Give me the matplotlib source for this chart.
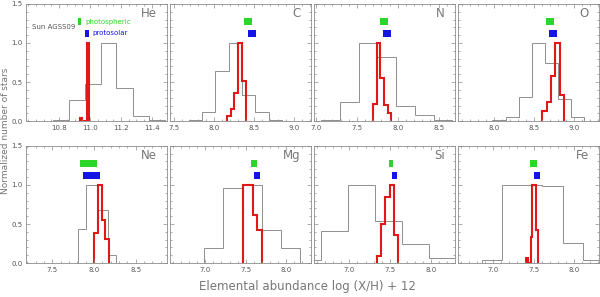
import numpy as np
import matplotlib
matplotlib.use('Agg')
import matplotlib.pyplot as plt
from matplotlib.ticker import MultipleLocator, FixedLocator


##################################################
#################### DATA ########################
##################################################
elements = ['He', 'C', 'N', 'O', 'Ne', 'Mg', 'Si', 'Fe']

# Sun AGSS09: value, error (photospheric / protosolar)
photo_val = [10.93, 8.43, 7.83, 8.69, 7.93, 7.60, 7.51, 7.50]
photo_err = [0.01, 0.05, 0.05, 0.05, 0.10, 0.04, 0.03, 0.04]
proto_val = [10.98, 8.47, 7.87, 8.73, 7.97, 7.64, 7.55, 7.54]
proto_err = [0.0125, 0.05, 0.05, 0.05, 0.10, 0.04, 0.03, 0.04]

# grey histograms (bin edges, normalized counts)
grey_edges = {
    'He': [10.655, 10.76, 10.863, 10.965, 11.07, 11.17, 11.275, 11.38, 11.485],
    'C': [7.683, 7.85, 8.016, 8.183, 8.35, 8.516, 8.683, 8.85],
    'N': [7.065, 7.294, 7.523, 7.752, 7.981, 8.21, 8.439, 8.668],
    'O': [7.976, 8.14, 8.304, 8.468, 8.632, 8.796, 8.96, 9.124],
    'Ne': [7.805, 7.905, 8.035, 8.165, 8.265],
    'Mg': [6.988, 7.225, 7.462, 7.699, 7.936, 8.173],
    'Si': [6.33, 6.66, 6.99, 7.32, 7.65, 7.98, 8.31],
    'Fe': [6.865, 7.113, 7.36, 7.61, 7.86, 8.11, 8.36],
}
grey_counts = {
    'He': [0.005, 0.02, 0.27, 0.48, 1.0, 0.43, 0.07, 0.02],
    'C': [0.02, 0.12, 0.64, 1.0, 0.33, 0.12, 0.01],
    'N': [0.02, 0.24, 1.0, 0.82, 0.19, 0.08, 0.02],
    'O': [0.02, 0.055, 0.31, 1.0, 0.74, 0.28, 0.055],
    'Ne': [0.44, 1.0, 0.68, 0.11],
    'Mg': [0.19, 0.965, 1.0, 0.42, 0.19],
    'Si': [0.04, 0.405, 1.0, 0.54, 0.25, 0.07],
    'Fe': [0.04, 1.0, 1.0, 0.98, 0.26, 0.04],
}

# red histograms
red_edges = {
    'He': [10.933, 10.948, 10.964, 10.979, 10.994],
    'C': [8.16, 8.207, 8.255, 8.302, 8.35, 8.397],
    'N': [7.698, 7.742, 7.787, 7.831, 7.876, 7.92],
    'O': [8.602, 8.656, 8.71, 8.764, 8.818, 8.872],
    'Ne': [7.998, 8.044, 8.09, 8.136, 8.182],
    'Mg': [7.47, 7.528, 7.585, 7.64, 7.698],
    'Si': [7.34, 7.391, 7.442, 7.493, 7.544, 7.595],
    'Fe': [7.405, 7.435, 7.465, 7.485, 7.535, 7.56],
}
red_counts = {
    'He': [0.04, 0.0, 0.0, 1.0],
    'C': [0.07, 0.15, 0.36, 1.0, 0.51],
    'N': [0.22, 1.0, 0.55, 0.21, 0.11],
    'O': [0.13, 0.25, 0.58, 1.0, 0.33],
    'Ne': [0.39, 1.0, 0.55, 0.31],
    'Mg': [1.0, 1.0, 0.61, 0.42],
    'Si': [0.09, 0.50, 0.85, 1.0, 0.36],
    'Fe': [0.07, 0.0, 0.33, 1.0, 0.42],
}

x_limits = {
    'He': (10.585, 11.496), 'C': (7.447, 9.21), 'N': (6.973, 8.698),
    'O': (7.543, 9.306), 'Ne': (7.18, 8.874), 'Mg': (6.562, 8.303),
    'Si': (6.566, 8.29), 'Fe': (6.565, 8.306),
}
x_ticks = {
    'He': [10.8, 11.0, 11.2, 11.4], 'C': [7.5, 8.0, 8.5, 9.0],
    'N': [7.0, 7.5, 8.0, 8.5], 'O': [8.0, 8.5, 9.0],
    'Ne': [7.5, 8.0, 8.5], 'Mg': [7.0, 7.5, 8.0],
    'Si': [7.0, 7.5, 8.0], 'Fe': [7.0, 7.5, 8.0],
}


##################################################
#################### PLOT ########################
##################################################
ax_col = '#8c8c8c'
txt_col = '#555555'
green = '#2bd62b'
blue = '#1414e6'
red = '#e01818'

fig, axes = plt.subplots(2, 4, figsize=(6.0, 2.97), dpi=100)
fig.subplots_adjust(left=0.043, right=0.998, top=0.987, bottom=0.114,
                    wspace=0.021, hspace=0.21)

for i, el in enumerate(elements):
    ax = axes.flat[i]
    ax.stairs(grey_counts[el], grey_edges[el], color='#8f8f8f', lw=0.7,
              baseline=0)
    ax.stairs(red_counts[el], red_edges[el], color=red, lw=1.5, baseline=0)

    # solar values
    ax.fill_between([photo_val[i] - photo_err[i], photo_val[i] + photo_err[i]],
                    1.225, 1.315, color=green, lw=0)
    ax.fill_between([proto_val[i] - proto_err[i], proto_val[i] + proto_err[i]],
                    1.08, 1.17, color=blue, lw=0)

    ax.set_xlim(*x_limits[el])
    ax.set_ylim(0, 1.5)
    ax.xaxis.set_major_locator(FixedLocator(x_ticks[el]))
    ax.xaxis.set_minor_locator(MultipleLocator(0.05 if el == 'He' else 0.1))
    ax.yaxis.set_major_locator(MultipleLocator(0.5))
    ax.yaxis.set_minor_locator(MultipleLocator(0.1))
    ax.tick_params(which='both', direction='in', top=True, right=True,
                   color=ax_col, width=0.5, labelsize=5, labelcolor=txt_col,
                   pad=2.5)
    ax.tick_params(which='major', length=3)
    ax.tick_params(which='minor', length=1.5)
    ax.xaxis.set_major_formatter(plt.FormatStrFormatter('%.1f'))
    ax.yaxis.set_major_formatter(plt.FormatStrFormatter('%.1f'))
    if i % 4 != 0:
        ax.set_yticklabels([])
    for s in ax.spines.values():
        s.set_color(ax_col)
        s.set_linewidth(0.6)

    ax.text(0.93, 0.92, el, transform=ax.transAxes, ha='right', va='center',
            fontsize=8.5, color='#777777')

ax0 = axes.flat[0]
ax0.text(10.625, 1.2, 'Sun AGSS09', fontsize=5, color=txt_col, va='center')
ax0.text(10.97, 1.27, 'photospheric', fontsize=5, color=green, va='center')
ax0.text(11.015, 1.125, 'protosolar', fontsize=5, color=blue, va='center')

fig.text(0.009, 0.56, 'Normalized number of stars', rotation=90,
         ha='center', va='center', fontsize=6.5, color='#777777')
fig.text(0.513, 0.035, 'Elemental abundance log (X/H) + 12', ha='center',
         va='center', fontsize=8.5, color='#777777')

fig.savefig('out.png', dpi=100)
